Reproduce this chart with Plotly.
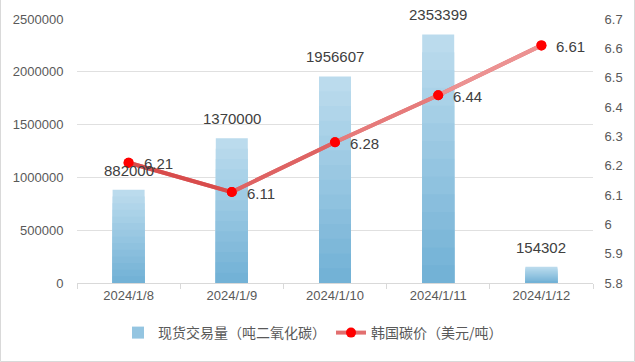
import plotly.graph_objects as go

categories = ["2024/1/8", "2024/1/9", "2024/1/10", "2024/1/11", "2024/1/12"]
volume = [882000, 1370000, 1956607, 2353399, 154302]
price = [6.21, 6.11, 6.28, 6.44, 6.61]
bar_name = "现货交易量（吨二氧化碳）"
line_name = "韩国碳价（美元/吨）"
y1_ticks = [0, 500000, 1000000, 1500000, 2000000, 2500000]
y2_ticks = [5.8, 5.9, 6.0, 6.1, 6.2, 6.3, 6.4, 6.5, 6.6, 6.7]
y2_ticktext = ["5.8", "5.9", "6", "6.1", "6.2", "6.3", "6.4", "6.5", "6.6", "6.7"]


def lerp(c1, c2, t):
    return "rgb(%d,%d,%d)" % tuple(round(a + (b - a) * t) for a, b in zip(c1, c2))


BAR_DARK = (112, 176, 213)
BAR_LIGHT = (190, 221, 238)
LINE_DARK = (212, 64, 64)
LINE_LIGHT = (240, 158, 158)

fig = go.Figure()

# gradient bars: overlay layers, lightest (full height) first
N = 14
for k in range(N, 0, -1):
    frac = k / N
    col = lerp(BAR_DARK, BAR_LIGHT, (k - 0.5) / N)
    fig.add_trace(go.Bar(
        x=categories, y=[v * frac for v in volume],
        marker=dict(color=col, line=dict(width=0)),
        width=0.31, name=bar_name,
        showlegend=(k == N // 2), legendrank=1,
        hoverinfo="skip",
    ))

# legend line (full)
fig.add_trace(go.Scatter(
    x=categories, y=price, yaxis="y2", mode="lines+markers", name=line_name,
    line=dict(color=lerp(LINE_DARK, LINE_LIGHT, 0.5), width=4),
    marker=dict(color="#ff0000", size=10), legendrank=2,
))
# gradient segments
for i in range(len(categories) - 1):
    fig.add_trace(go.Scatter(
        x=categories[i:i + 2], y=price[i:i + 2], yaxis="y2", mode="lines",
        line=dict(color=lerp(LINE_DARK, LINE_LIGHT, (i + 0.5) / (len(categories) - 1)), width=4),
        showlegend=False, hoverinfo="skip",
    ))
fig.add_trace(go.Scatter(
    x=categories, y=price, yaxis="y2", mode="markers",
    marker=dict(color="#ff0000", size=10), showlegend=False,
))

annos = []
for c, v in zip(categories, volume):
    annos.append(dict(x=c, y=v, xref="x", yref="y", text=str(v), showarrow=False,
                      yanchor="bottom", yshift=9, font=dict(size=15, color="#404040")))
for c, p in zip(categories, price):
    annos.append(dict(x=c, y=p, xref="x", yref="y2", text="%g" % p, showarrow=False,
                      xanchor="left", xshift=13, yshift=-1, font=dict(size=15, color="#404040")))

W, H = 635, 362
L, R, T, B = 77, 42, 19, 79
pw, ph = W - L - R, H - T - B

fig.update_layout(
    width=W, height=H, barmode="overlay",
    margin=dict(l=L, r=R, t=T, b=B, autoexpand=False),
    paper_bgcolor="white", plot_bgcolor="white",
    font=dict(family="Liberation Sans, Noto Sans CJK SC", color="#595959"),
    xaxis=dict(type="category", showgrid=False, showline=True, linecolor="#d9d9d9",
               ticks="outside", tickson="boundaries", ticklen=5, tickcolor="#d9d9d9",
               tickfont=dict(size=13, color="#595959"), range=[-0.5, 4.5]),
    yaxis=dict(range=[0, 2500000], tickvals=y1_ticks, tickformat="d",
               showgrid=True, gridcolor="#e0e0e0", gridwidth=1, zeroline=False,
               ticks="outside", ticklen=10, tickcolor="rgba(0,0,0,0)",
               tickfont=dict(size=13, color="#595959")),
    yaxis2=dict(range=[5.8, 6.7], overlaying="y", side="right",
                tickvals=y2_ticks, ticktext=y2_ticktext, showgrid=False, zeroline=False,
                ticks="outside", ticklen=8, tickcolor="rgba(0,0,0,0)",
                tickfont=dict(size=13, color="#595959")),
    legend=dict(orientation="h", x=0.5 - 22 / pw, xanchor="center", xref="paper",
                y=-(333 - 283) / ph, yanchor="middle",
                font=dict(family="Noto Sans CJK SC", size=14, color="#595959"),
                itemwidth=30, tracegroupgap=0),
    annotations=annos,
    shapes=[dict(type="rect", xref="paper", yref="paper",
                 x0=(0.5 - L) / pw, x1=(W - 0.5 - L) / pw,
                 y0=-(H - 0.5 - T - ph) / ph, y1=(H - 0.5 - T) / ph,
                 line=dict(color="#d9d9d9", width=1), layer="below")],
    showlegend=True,
)

fig.write_html("out.html", config={"displayModeBar": False},
               post_script="document.body.style.margin='0';")
